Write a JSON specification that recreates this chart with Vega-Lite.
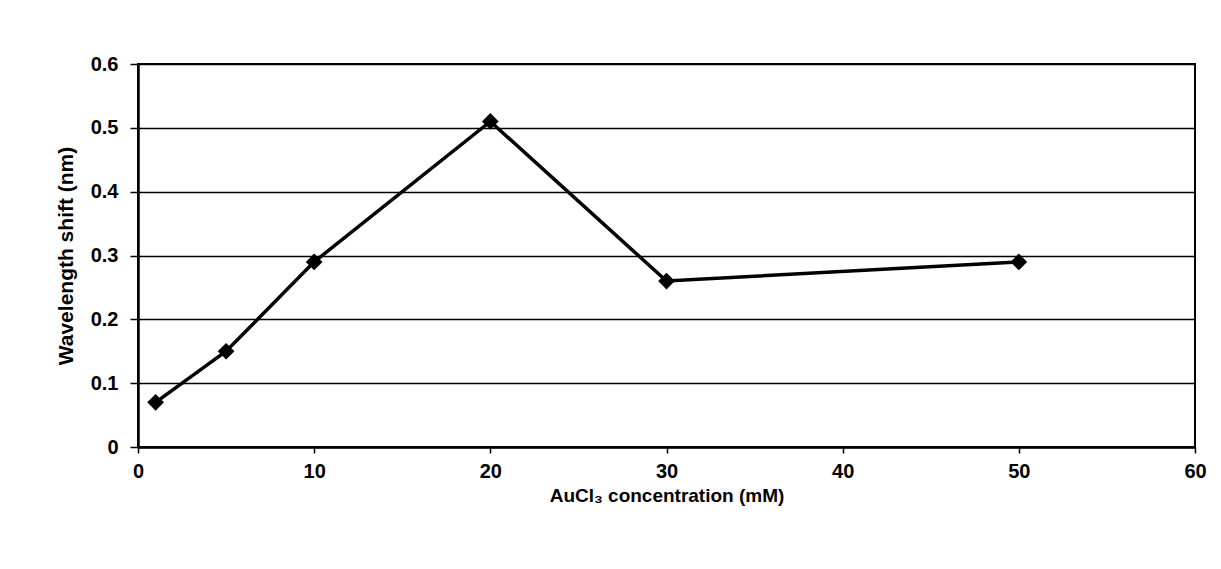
{
  "$schema": "https://vega.github.io/schema/vega-lite/v6.json",
  "autosize": "none",
  "width": 1057,
  "height": 383,
  "padding": {"left": 138, "top": 64, "right": 26, "bottom": 122},
  "background": "white",
  "config": {
    "view": {"stroke": "black", "strokeWidth": 2},
    "axis": {
      "labelFont": "Liberation Sans",
      "labelFontWeight": "bold",
      "labelFontSize": 20,
      "labelColor": "black",
      "titleFont": "Liberation Sans",
      "titleFontWeight": "bold",
      "titleFontSize": 20,
      "titleColor": "black",
      "domainColor": "black",
      "domainWidth": 2.5,
      "tickColor": "black",
      "tickWidth": 1.5,
      "gridColor": "black",
      "gridWidth": 1.5,
      "gridOpacity": 1
    }
  },
  "data": {
    "values": [
      {"conc": 1, "shift": 0.07},
      {"conc": 5, "shift": 0.15},
      {"conc": 10, "shift": 0.29},
      {"conc": 20, "shift": 0.51},
      {"conc": 30, "shift": 0.26},
      {"conc": 50, "shift": 0.29}
    ]
  },
  "encoding": {
    "x": {
      "field": "conc",
      "type": "quantitative",
      "scale": {"domain": [0, 60], "nice": false},
      "axis": {
        "title": "AuCl₃ concentration (mM)",
        "titleFontSize": 19,
        "values": [0, 10, 20, 30, 40, 50, 60],
        "grid": false,
        "tickSize": 6,
        "labelPadding": 8,
        "titlePadding": 5,
        "labelFlush": false
      }
    },
    "y": {
      "field": "shift",
      "type": "quantitative",
      "scale": {"domain": [0, 0.6], "nice": false},
      "axis": {
        "title": "Wavelength shift (nm)",
        "titleFontSize": 21,
        "values": [0, 0.1, 0.2, 0.3, 0.4, 0.5, 0.6],
        "format": "~g",
        "grid": true,
        "tickSize": 8,
        "labelPadding": 12,
        "titlePadding": 14,
        "labelFlush": false
      }
    }
  },
  "layer": [
    {"mark": {"type": "line", "color": "black", "strokeWidth": 3.5}},
    {"mark": {"type": "point", "shape": "diamond", "filled": true, "color": "black", "opacity": 1, "size": 280}}
  ]
}
